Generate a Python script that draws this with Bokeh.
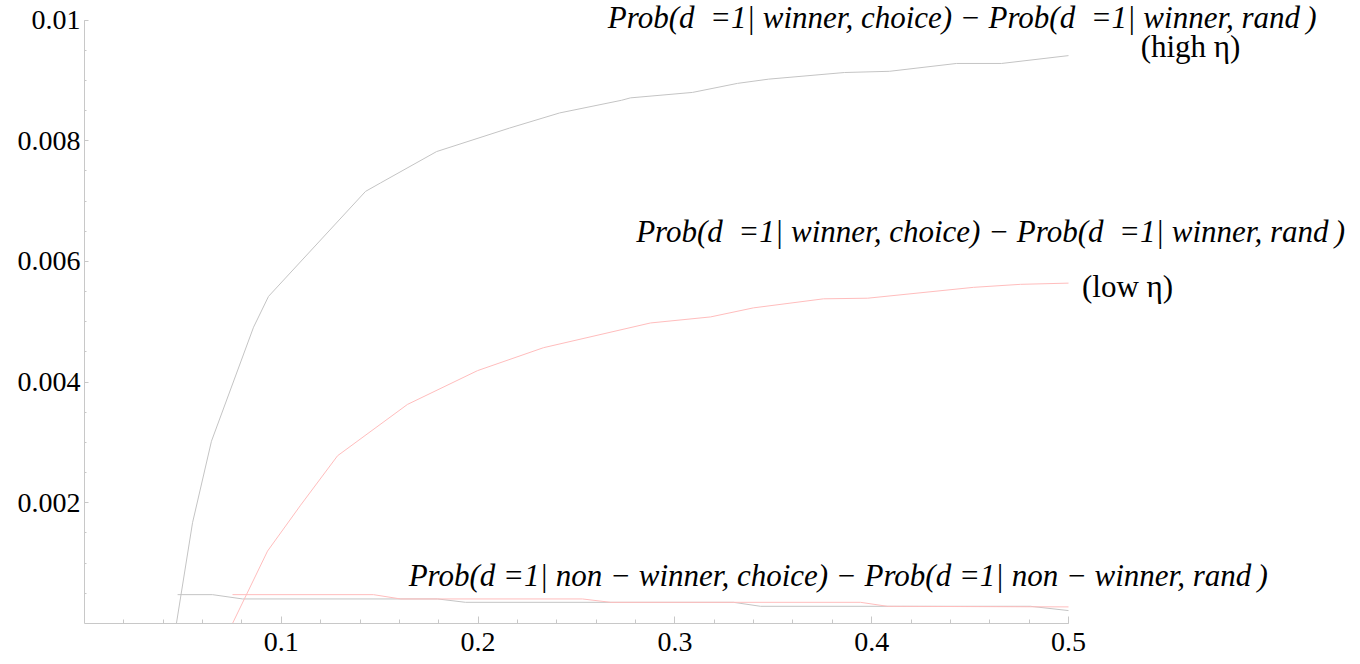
from bokeh.plotting import figure
from bokeh.models import Label, FixedTicker, Range1d
from bokeh.embed import file_html
from bokeh.resources import INLINE

# ---------------- data ----------------
# winner, high eta (grey)
hw_x = [0.0467, 0.0549, 0.0645, 0.0859, 0.0935, 0.1428, 0.1504, 0.1789, 0.2160,
        0.2414, 0.2729, 0.2774, 0.3089, 0.3318, 0.3476, 0.3862, 0.4090, 0.4431,
        0.4660, 0.5000]
hw_y = [0.00000, 0.00167, 0.00302, 0.00491, 0.00542, 0.00716, 0.00730, 0.00782,
        0.00821, 0.00846, 0.00867, 0.00871, 0.00880, 0.00895, 0.00902, 0.00913,
        0.00915, 0.00928, 0.00928, 0.00941]
# winner, low eta (red)
lw_x = [0.0752, 0.0930, 0.1098, 0.1286, 0.1641, 0.1997, 0.2332, 0.2876, 0.3181,
        0.3399, 0.3755, 0.3979, 0.4517, 0.4756, 0.5000]
lw_y = [0.00000, 0.00120, 0.00196, 0.00278, 0.00363, 0.00419, 0.00457, 0.00498,
        0.00508, 0.00523, 0.00538, 0.00539, 0.00557, 0.00562, 0.00564]
# non-winner, high eta (grey)
hn_x = [0.0473, 0.0650, 0.0803, 0.1794, 0.1936, 0.3298, 0.3435, 0.4807, 0.5000]
hn_y = [0.000478, 0.000478, 0.000407, 0.000407, 0.000351, 0.000351, 0.000285,
        0.000285, 0.000214]
# non-winner, low eta (red)
ln_x = [0.0752, 0.1468, 0.1606, 0.2530, 0.2673, 0.3943, 0.4080, 0.5000]
ln_y = [0.000478, 0.000478, 0.000407, 0.000407, 0.000351, 0.000351, 0.000285,
        0.000275]

x_ticks = [0.1, 0.2, 0.3, 0.4, 0.5]
x_tick_labels = ["0.1", "0.2", "0.3", "0.4", "0.5"]
y_ticks = [0.002, 0.004, 0.006, 0.008, 0.01]
y_tick_labels = ["0.002", "0.004", "0.006", "0.008", "0.01"]

EN = "\u2002"
TH = "\u2009"
MINUS = "\u2212"
label_winner = ("Prob(d" + EN + "=1| winner, choice) " + MINUS + " "
                + "Prob(d" + EN + "=1| winner, rand" + TH + ")")
label_nonwinner = ("Prob(d =1| non " + MINUS + " winner, choice) " + MINUS
                   + " Prob(d =1| non " + MINUS + " winner, rand" + TH + ")")
label_high = "(high \u03b7)"
label_low = "(low \u03b7)"

# ---------------- figure ----------------
GREY = "#c4c4c4"
PINK = "#ffbdbd"
AXIS = "#c8c8c8"
FONT = "Liberation Serif"

p = figure(frame_width=1268, frame_height=619,
           x_range=Range1d(0, 0.6443), y_range=Range1d(0, 0.010257),
           output_backend="svg", toolbar_location=None,
           min_border_left=84, min_border_right=0,
           min_border_top=4, min_border_bottom=36)
p.background_fill_color = "white"
p.border_fill_color = "white"
p.outline_line_color = None
p.xgrid.visible = False
p.ygrid.visible = False

p.line(hw_x, hw_y, line_color=GREY, line_width=1)
p.line(hn_x, hn_y, line_color=GREY, line_width=1)
p.line(lw_x, lw_y, line_color=PINK, line_width=1)
p.line(ln_x, ln_y, line_color=PINK, line_width=1)

x_minor = [round(0.02 * i, 4) for i in range(1, 26)]
y_minor = [round(0.0005 * i, 5) for i in range(1, 21)]

xa = p.xaxis[0]
xa.ticker = FixedTicker(ticks=x_ticks, minor_ticks=x_minor)
xa.bounds = (0, 0.5)
xa.major_label_overrides = dict(zip(x_ticks, x_tick_labels))
xa.major_tick_in = 7
xa.major_tick_out = 0
xa.minor_tick_in = 4
xa.minor_tick_out = 0
xa.major_label_standoff = 9

ya = p.yaxis[0]
ya.ticker = FixedTicker(ticks=y_ticks, minor_ticks=y_minor)
ya.bounds = (0, 0.01)
ya.major_label_overrides = dict(zip(y_ticks, y_tick_labels))
ya.major_tick_in = 4
ya.major_tick_out = 0
ya.minor_tick_in = 2
ya.minor_tick_out = 0
ya.major_label_standoff = 4

for ax in (xa, ya):
    ax.axis_line_color = AXIS
    ax.major_tick_line_color = AXIS
    ax.minor_tick_line_color = AXIS
    ax.major_label_text_font = FONT
    ax.major_label_text_font_size = "28px"
    ax.major_label_text_color = "black"

labels = [
    (label_winner, 0.446, 0.01004, "italic"),
    (label_high, 0.562, 0.00956, "normal"),
    (label_winner, 0.4604, 0.00650, "italic"),
    (label_low, 0.530, 0.00559, "normal"),
    (label_nonwinner, 0.383, 0.00079, "italic"),
]
for txt, lx, ly, style in labels:
    p.add_layout(Label(x=lx, y=ly, text=txt, text_font=FONT,
                       text_font_style=style, text_font_size="31px",
                       text_color="black", text_align="center",
                       text_baseline="middle"))

open("out.html", "w").write(file_html(p, INLINE))
